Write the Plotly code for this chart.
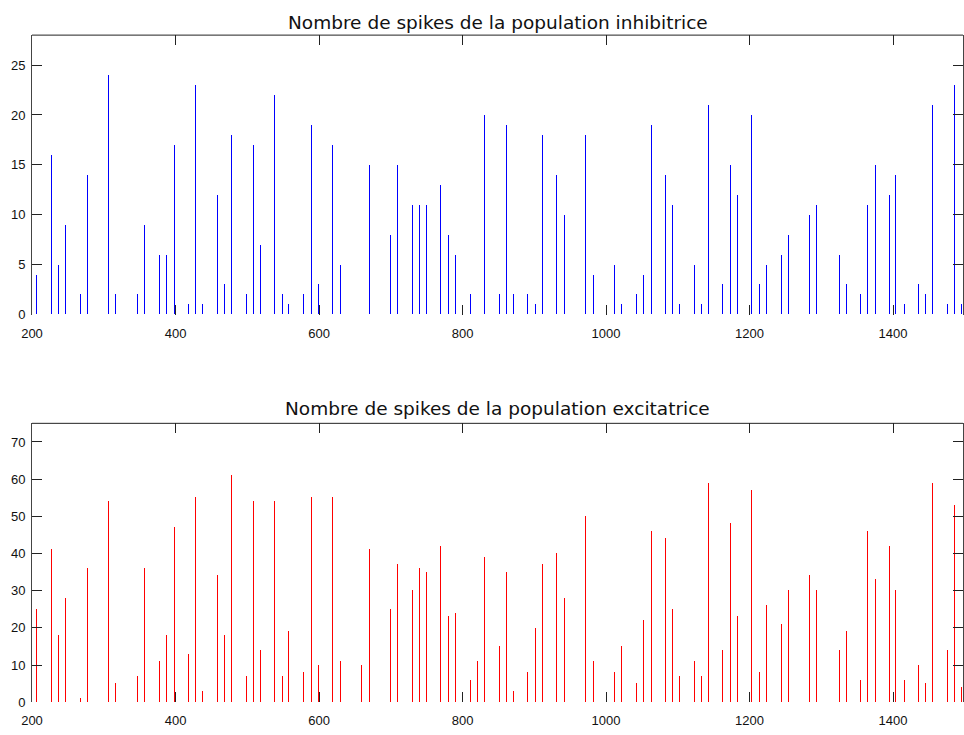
import plotly.graph_objects as go

# Spike counts per time bin (ms) for the two populations
t_inh = [206, 227, 237, 247, 267, 277, 307, 317, 347, 357, 377, 387, 398, 418, 428, 438,
         458, 468, 478, 499, 509, 518, 538, 549, 558, 578, 589, 599, 619, 630, 670, 699,
         710, 730, 740, 750, 770, 780, 790, 811, 830, 851, 861, 871, 891, 902, 911, 931,
         942, 971, 982, 1012, 1022, 1042, 1052, 1063, 1083, 1092, 1103, 1123, 1133, 1143,
         1163, 1174, 1183, 1203, 1214, 1223, 1244, 1254, 1284, 1294, 1325, 1335, 1355,
         1365, 1375, 1395, 1404, 1416, 1435, 1445, 1455, 1476, 1486, 1496]
n_inh = [4, 16, 5, 9, 2, 14, 24, 2, 2, 9, 6, 6, 17, 1, 23, 1,
         12, 3, 18, 2, 17, 7, 22, 2, 1, 2, 19, 3, 17, 5, 15, 8,
         15, 11, 11, 11, 13, 8, 6, 2, 20, 2, 19, 2, 2, 1, 18, 14,
         10, 18, 4, 5, 1, 2, 4, 19, 14, 11, 1, 5, 1, 21,
         3, 15, 12, 20, 3, 5, 6, 8, 10, 11, 6, 3, 2,
         11, 15, 12, 14, 1, 3, 2, 21, 1, 23, 1]

t_exc = [206, 227, 237, 247, 267, 277, 307, 317, 347, 357, 377, 387, 398, 418, 428, 438,
         458, 468, 478, 499, 509, 518, 538, 549, 558, 578, 589, 599, 619, 630, 659, 670,
         699, 710, 730, 740, 750, 770, 780, 790, 811, 821, 830, 851, 861, 871, 891, 902,
         911, 931, 942, 971, 982, 1012, 1022, 1042, 1052, 1063, 1083, 1092, 1103, 1123,
         1133, 1143, 1163, 1174, 1183, 1203, 1214, 1223, 1244, 1254, 1284, 1294, 1325,
         1335, 1355, 1365, 1375, 1395, 1404, 1416, 1435, 1445, 1455, 1476, 1486, 1496]
n_exc = [25, 41, 18, 28, 1, 36, 54, 5, 7, 36, 11, 18, 47, 13, 55, 3,
         34, 18, 61, 7, 54, 14, 54, 7, 19, 8, 55, 10, 55, 11, 10, 41,
         25, 37, 30, 36, 35, 42, 23, 24, 6, 11, 39, 15, 35, 3, 8, 20,
         37, 40, 28, 50, 11, 8, 15, 5, 22, 46, 44, 25, 7, 11,
         7, 59, 14, 48, 23, 57, 8, 26, 21, 30, 34, 30, 14,
         19, 6, 46, 33, 42, 30, 6, 10, 5, 59, 14, 53, 4]

x_tickvals = [200, 400, 600, 800, 1000, 1200, 1400]
titles = ["Nombre de spikes de la population inhibitrice",
          "Nombre de spikes de la population excitatrice"]

W, H = 964, 735
LEFT = 32
PX_PER_MS = 0.7183
x_max = 200 + (W - LEFT) / PX_PER_MS
BAR_W = 1.0 / PX_PER_MS  # one pixel wide


def frac(px):
    return 1 - px / H


fig = go.Figure()
fig.add_trace(go.Bar(x=t_inh, y=n_inh, width=BAR_W,
                     marker=dict(color="rgba(0,0,255,0.999)", line=dict(width=0)),
                     xaxis="x", yaxis="y", showlegend=False))
fig.add_trace(go.Bar(x=t_exc, y=n_exc, width=BAR_W,
                     marker=dict(color="rgba(255,0,0,0.999)", line=dict(width=0)),
                     xaxis="x2", yaxis="y2", showlegend=False))

tick_font = dict(family="Liberation Sans, Arial, sans-serif", size=13, color="#111111")
xax = dict(range=[200, x_max], tickvals=x_tickvals, ticks="inside", ticklen=10,
           tickcolor="#222222", tickwidth=1, mirror="ticks", showline=False,
           showgrid=False, zeroline=False, tickfont=tick_font, ticklabelstandoff=9)
yax = dict(ticks="inside", ticklen=10, tickcolor="#222222", tickwidth=1,
           mirror="ticks", showline=True, linecolor="#444444", linewidth=1,
           showgrid=False, zeroline=False, tickfont=tick_font, ticklabelstandoff=3)

fig.update_layout(
    width=W, height=H,
    margin=dict(l=LEFT, r=0, t=0, b=0),
    paper_bgcolor="white", plot_bgcolor="white",
    bargap=0,
    xaxis=dict(**xax, domain=[0, 1], anchor="y"),
    yaxis=dict(**yax, range=[0, 28], dtick=5, domain=[frac(318), frac(35.5)], anchor="x"),
    xaxis2=dict(**xax, domain=[0, 1], anchor="y2"),
    yaxis2=dict(**yax, range=[0, 75], dtick=10, domain=[frac(710), frac(428)], anchor="x2"),
)

# top border of each panel
for yref in ["y domain", "y2 domain"]:
    fig.add_shape(type="line", xref="paper", yref=yref, x0=0, x1=1, y0=1, y1=1,
                  line=dict(color="#222222", width=1))

title_font = dict(family="DejaVu Sans, sans-serif", size=18.5, color="#111111")
for text, ypx in zip(titles, [23, 413]):
    fig.add_annotation(text=text, xref="paper", yref="paper", x=0.5, y=frac(ypx),
                       xanchor="center", yanchor="middle", showarrow=False, font=title_font)

fig.write_html("out.html")
